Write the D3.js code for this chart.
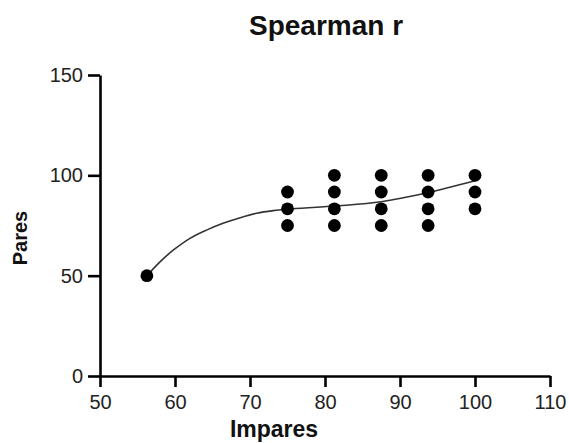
<!DOCTYPE html>
<html>
<head>
<meta charset="utf-8">
<script src="https://cdn.jsdelivr.net/npm/d3@7"></script>
<style>
  body { margin: 0; background: #fff; }
  text { font-family: "Liberation Sans", Arial, sans-serif; }
</style>
</head>
<body>
<script>
// observed points: x = Impares, y = Pares
const impares = [56.25, 75, 75, 75, 81.25, 81.25, 81.25, 81.25, 87.5, 87.5, 87.5, 87.5,
                 93.75, 93.75, 93.75, 93.75, 100, 100, 100];
const pares = [50, 75, 83.3, 91.7, 75, 83.3, 91.7, 100, 75, 83.3, 91.7, 100,
               75, 83.3, 91.7, 100, 83.3, 91.7, 100];

// fitted curve
const fitX = [56.25, 58, 59.8, 62, 64.2, 66.4, 68.7, 70.9, 73.1, 75, 81.25, 87.5, 93.75, 100];
const fitY = [50, 56.9, 62.8, 68.6, 72.7, 76.1, 78.9, 81.1, 82.4, 83.1, 84.7, 86.8, 91.4, 97.3];

const xTicks = [50, 60, 70, 80, 90, 100, 110];
const yTicks = [0, 50, 100, 150];

const width = 569, height = 443;
const svg = d3.select("body").append("svg")
  .attr("width", width)
  .attr("height", height);

const x = d3.scaleLinear().domain([50, 110]).range([100, 550]);
const y = d3.scaleLinear().domain([0, 150]).range([376, 75]);

const xAxis = svg.append("g")
  .attr("transform", "translate(0,376)")
  .call(d3.axisBottom(x).tickValues(xTicks).tickSize(11).tickSizeOuter(0).tickPadding(8));
const yAxis = svg.append("g")
  .attr("transform", "translate(100,0)")
  .call(d3.axisLeft(y).tickValues(yTicks).tickSize(12).tickSizeOuter(0).tickPadding(5));

[xAxis, yAxis].forEach(a => {
  a.select(".domain").attr("stroke", "#000").attr("stroke-width", 2.6);
  a.selectAll(".tick line").attr("stroke", "#000").attr("stroke-width", 2.6);
  a.selectAll(".tick text").attr("fill", "#222").style("font-size", "20px")
    .style("font-family", "Liberation Sans, Arial, sans-serif");
});

// fit line
const line = d3.line()
  .x((d, i) => x(fitX[i]))
  .y(d => y(d))
  .curve(d3.curveCatmullRom);
svg.append("path")
  .attr("d", line(fitY))
  .attr("fill", "none")
  .attr("stroke", "#333")
  .attr("stroke-width", 1.6);

svg.append("g").selectAll("circle")
  .data(impares)
  .enter().append("circle")
  .attr("cx", d => x(d))
  .attr("cy", (d, i) => y(pares[i]))
  .attr("r", 6.4)
  .attr("fill", "#000");

svg.append("text")
  .attr("x", 326).attr("y", 35)
  .attr("text-anchor", "middle")
  .attr("fill", "#111")
  .style("font-size", "28px").style("font-weight", "bold")
  .text("Spearman r");

svg.append("text")
  .attr("x", 274).attr("y", 437)
  .attr("text-anchor", "middle")
  .attr("fill", "#111")
  .style("font-size", "23px").style("font-weight", "bold")
  .text("Impares");

svg.append("text")
  .attr("transform", "translate(27,238) rotate(-90)")
  .attr("text-anchor", "middle")
  .attr("fill", "#111")
  .style("font-size", "20px").style("font-weight", "bold")
  .text("Pares");
</script>
</body>
</html>
